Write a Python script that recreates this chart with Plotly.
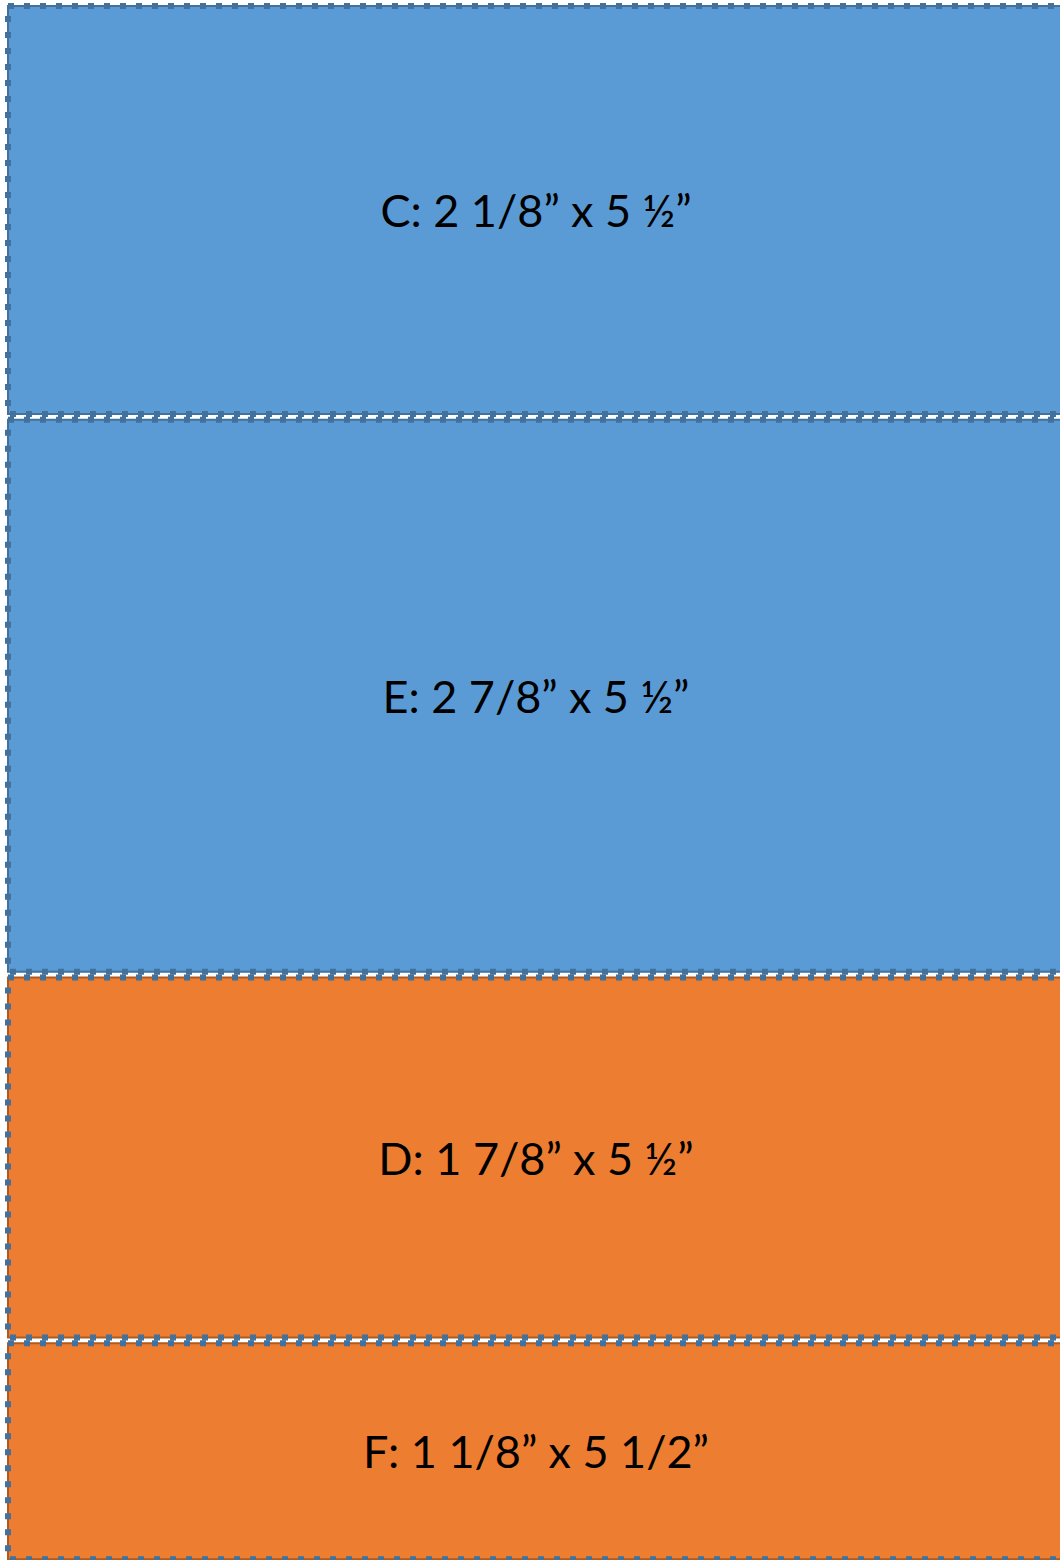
import plotly.graph_objects as go

# ---- data (inches) ----
pieces = ["C", "E", "D", "F"]
heights_in = [2.125, 2.875, 1.875, 1.125]
piece_width_in = 5.5
labels = ["C: 2 1/8\u201d x 5 \u00bd\u201d",
          "E: 2 7/8\u201d x 5 \u00bd\u201d",
          "D: 1 7/8\u201d x 5 \u00bd\u201d",
          "F: 1 1/8\u201d x 5 1/2\u201d"]

# ---- style ----
fills = ["#5B9BD5", "#5B9BD5", "#ED7D31", "#ED7D31"]
edges = ["#41719C", "#41719C", "#AE5A21", "#AE5A21"]
dash_color = "#41719C"
gap = 0.03
px_per_in = 192.0
W, H = 1060, 1560
left_px, top_px = 8, 6

bases = []
acc = 0.0
for i, h in enumerate(heights_in):
    bases.append(acc)
    acc += h + gap

xc = piece_width_in / 2
fig = go.Figure()
fig.add_trace(go.Bar(
    x=[xc] * len(pieces),
    y=heights_in,
    base=bases,
    width=[piece_width_in] * len(pieces),
    marker=dict(color=fills, line=dict(width=0)),
    text=labels,
    textposition="inside",
    insidetextanchor="middle",
    textangle=0,
    constraintext="none",
    textfont=dict(family="Lato, Carlito, sans-serif", size=45, color="#000000"),
    hoverinfo="skip",
    showlegend=False,
))

shapes = []
for b, h, ec in zip(bases, heights_in, edges):
    shapes.append(dict(type="rect", xref="x", yref="y", x0=0, x1=piece_width_in,
                       y0=b, y1=b + h, line=dict(color=ec, width=2), layer="above"))
for b, h in zip(bases, heights_in):
    shapes.append(dict(type="rect", xref="x", yref="y", x0=0, x1=piece_width_in,
                       y0=b, y1=b + h,
                       line=dict(color=dash_color, width=6, dash="6px,10px"), layer="above"))

fig.update_layout(
    width=W, height=H,
    margin=dict(l=0, r=0, t=0, b=0),
    paper_bgcolor="white", plot_bgcolor="white",
    barmode="overlay",
    shapes=shapes,
    xaxis=dict(range=[-left_px / px_per_in, (W - left_px) / px_per_in],
               visible=False, showgrid=False, zeroline=False, fixedrange=True),
    yaxis=dict(range=[(H - top_px) / px_per_in, -top_px / px_per_in],
               visible=False, showgrid=False, zeroline=False, fixedrange=True),
)

fig.write_html(
    "out.html",
    config={"displayModeBar": False},
    post_script="document.body.style.margin='0';document.body.style.overflow='hidden';"
                "document.documentElement.style.overflow='hidden';",
)
